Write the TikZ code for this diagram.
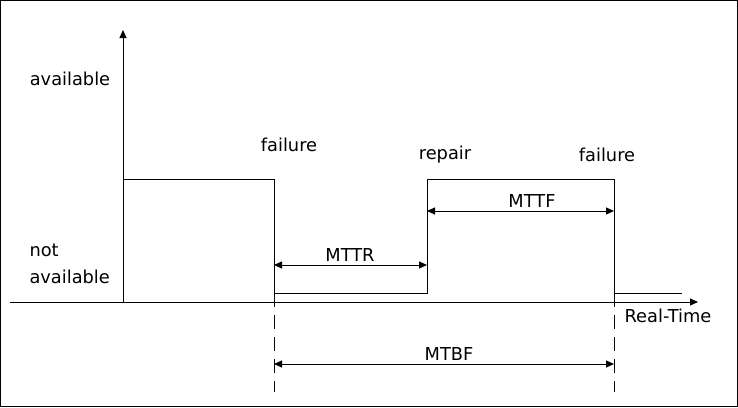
\documentclass[tikz,border=0pt]{standalone}
\usepackage{fontspec}
\setmainfont{DejaVu Sans}
\usetikzlibrary{arrows.meta}
\begin{document}
\begin{tikzpicture}[x=1pt,y=-1pt,
  line width=1pt,
  tip/.style={-{Triangle[length=8pt,width=7pt]}},
  dimline/.style={{Triangle[length=8pt,width=7pt]}-{Triangle[length=8pt,width=7pt]}},
  guide/.style={dash pattern=on 14pt off 8pt},
  lbl/.style={font=\fontsize{17.8}{27}\selectfont, inner sep=0pt}]
\useasboundingbox (0,0) rectangle (738,407);
\draw (0.5,0.5) rectangle (737.5,406.5);
% axes
\coordinate (yb) at (123,302);
\coordinate (yt) at (123,30);
\coordinate (xl) at (10,302);
\coordinate (xr) at (698,302);
\draw[tip] (yb) -- (yt);
\draw[tip] (xl) -- (xr);
% signal
\coordinate (s1) at (274,179);
\coordinate (s2) at (274,293);
\coordinate (s3) at (427,293);
\coordinate (s4) at (427,179);
\coordinate (s5) at (614,179);
\coordinate (s6) at (614,293);
\coordinate (s7) at (682,293);
\draw (yb) |- (s1) -- (s2) -- (s3) -- (s4) -- (s5) -- (s6) -- (s7);
% guides
\coordinate (g1) at (274,392);
\coordinate (g2) at (614,392);
\draw[guide] (s2) -- (g1);
\draw[guide] (s6) -- (g2);
% dimension arrows
\coordinate (r1) at (274,265);
\coordinate (r2) at (427,265);
\coordinate (f1) at (427,211);
\coordinate (f2) at (614,211);
\coordinate (b1) at (274,364);
\coordinate (b2) at (614,364);
\draw[dimline] (r1) -- (r2);
\draw[dimline] (f1) -- (f2);
\draw[dimline] (b1) -- (b2);
% labels
\node[lbl] (avail) at (70,79) {available};
\node[lbl, align=left, anchor=west] (notavail) at (29,264) {not\\available};
\node[lbl] (fail1) at (289,145) {failure};
\node[lbl] (rep) at (445,155) {repair};
\node[lbl] (fail2) at (607,155) {failure};
\node[lbl] (mttr) at (350,255) {MTTR};
\node[lbl] (mttf) at (532,201) {MTTF};
\node[lbl] (mtbf) at (449,354) {MTBF};
\node[lbl] (rt) at (668,316) {Real-Time};
\end{tikzpicture}
\end{document}
